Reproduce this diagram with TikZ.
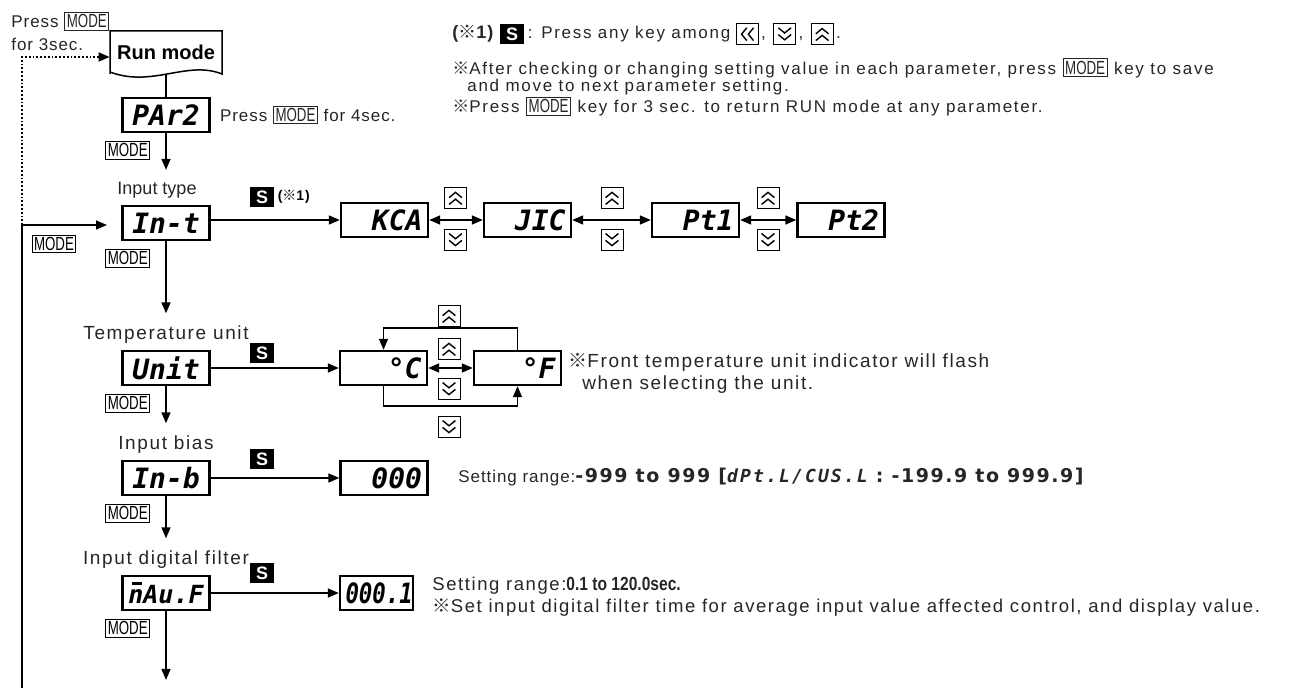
\documentclass[tikz,border=0pt]{standalone}
\usepackage{fontspec}
\usepackage{graphicx}
\setmainfont{Liberation Sans}[LetterSpace=5.5]
\newfontfamily\plainfont{Liberation Sans}
\newfontfamily\notefont{Liberation Sans}[LetterSpace=10]
\newfontfamily\labelfont{Liberation Sans}[LetterSpace=8.5]
\newfontfamily\segfont{DejaVu Sans Mono}
\newfontfamily\segwide{DejaVu Sans Mono}[LetterSpace=12]
\newfontfamily\numfont{DejaVu Sans}[LetterSpace=8]
\newfontfamily\cjk{Noto Sans CJK KR}
\usetikzlibrary{positioning,arrows.meta}

\newcommand{\refmark}{{\cjk ※}}
\newcommand{\modetxt}{{\plainfont\fontsize{9.5}{9.5}\selectfont\scalebox{0.7}[1]{MODE}}}
\newcommand{\modeinl}{{\setlength{\fboxsep}{0.8pt}\setlength{\fboxrule}{0.5pt}\fbox{\modetxt}}}
\newcommand{\segtxt}[1]{{\segwide\bfseries\itshape\fontsize{9}{9}\selectfont #1}}
\newcommand{\numtxt}[1]{{\numfont\bfseries\fontsize{9.5}{9.5}\selectfont #1}}
\newcommand{\condtxt}[1]{\scalebox{0.82}[1]{\plainfont\bfseries\fontsize{9.5}{9.5}\selectfont #1}}
\newcommand{\barn}{\rlap{\hspace{0.14em}\raisebox{0.74em}{\rule{0.42em}{0.09em}}}n}

\tikzset{
  conn/.style={line width=0.75pt, -{Triangle[length=5.5pt,width=4.5pt]}},
  dbl/.style={line width=0.75pt, {Triangle[length=5.5pt,width=4.5pt]}-{Triangle[length=5.5pt,width=4.5pt]}},
  disp/.style={draw, line width=1.2pt, minimum height=17pt, text width=38pt,
    inner xsep=2.75pt, inner ysep=0pt, align=right,
    font=\segfont\bfseries\itshape\fontsize{14}{14}\selectfont},
  param/.style={disp, align=center},
  modebox/.style={draw, line width=0.5pt, inner sep=1pt},
  sbox/.style={fill=black, text=white, inner sep=0pt, minimum width=12pt,
    minimum height=10pt, font=\plainfont\bfseries\fontsize{9}{9}\selectfont},
  keybox/.style={draw, line width=0.5pt, minimum width=11pt, minimum height=10.5pt, inner sep=0pt},
  keyup/.style={keybox, path picture={
    \draw[line width=0.7pt] ([shift={(-3.2pt,0.2pt)}]path picture bounding box.center) -- ++(3.2pt,2.6pt) -- ++(3.2pt,-2.6pt)
      ([shift={(-3.2pt,-3.2pt)}]path picture bounding box.center) -- ++(3.2pt,2.6pt) -- ++(3.2pt,-2.6pt);}},
  keydown/.style={keybox, path picture={
    \draw[line width=0.7pt] ([shift={(-3.2pt,-0.2pt)}]path picture bounding box.center) -- ++(3.2pt,-2.6pt) -- ++(3.2pt,2.6pt)
      ([shift={(-3.2pt,3.2pt)}]path picture bounding box.center) -- ++(3.2pt,-2.6pt) -- ++(3.2pt,2.6pt);}},
  keyleft/.style={keybox, path picture={
    \draw[line width=0.7pt] ([shift={(-0.2pt,3.2pt)}]path picture bounding box.center) -- ++(-2.6pt,-3.2pt) -- ++(2.6pt,-3.2pt)
      ([shift={(3.2pt,3.2pt)}]path picture bounding box.center) -- ++(-2.6pt,-3.2pt) -- ++(2.6pt,-3.2pt);}},
  note/.style={inner sep=0pt, anchor=base west, align=left, text=black!85,
    font=\fontsize{8.5}{8.75}\selectfont},
  lbl/.style={inner sep=0pt, text=black!85, font=\labelfont\fontsize{9.5}{9.5}\selectfont},
}

\begin{document}
\begin{tikzpicture}[x=0.5pt, y=-0.5pt]
\useasboundingbox (0,0) rectangle (1301,688);

% --- notes on top right
\node[note, font=\bfseries\fontsize{9}{9}\selectfont] (n1a) at (452,39) {(\refmark1)};
\node[sbox, right=3pt of n1a] (n1s) {S};
\node[note, anchor=west, right=1.5pt of n1s, font=\notefont\fontsize{8.5}{8.5}\selectfont] (n1b) {: Press any key among};
\node[keyleft, anchor=west] (n1k1) at ([xshift=2.5pt]n1b.east) {};
\node[note] (n1c1) at ([xshift=1pt]n1k1.east |- n1b.base) {,};
\node[keydown, anchor=west] (n1k2) at ([xshift=3.5pt]n1c1.east |- n1k1) {};
\node[note] (n1c2) at ([xshift=1pt]n1k2.east |- n1b.base) {,};
\node[keyup, anchor=west] (n1k3) at ([xshift=3.5pt]n1c2.east |- n1k1) {};
\node[note] (n1c3) at ([xshift=1pt]n1k3.east |- n1b.base) {.};
% base anchor of a multi-line note is its last line
\node[note, font=\notefont\fontsize{8.5}{8.75}\selectfont] (n2) at (452,113) {\refmark After checking or changing setting value in each parameter, press \modeinl\ key to save\\
  \hspace*{7.5pt}and move to next parameter setting.\\
  \refmark Press \modeinl\ key for 3 sec. to return RUN mode at any parameter.};

% --- run mode and PAr2
\node[note] (press) at (11,28) {Press \modeinl};
\node[note] (for3) at (11,51) {for 3sec.};
\node[inner sep=0pt, minimum width=56pt, minimum height=21.5pt,
  font=\plainfont\bfseries\fontsize{10}{10}\selectfont] (run) at (166,52.5) {Run mode};
\draw[line width=0.75pt] (110,74) -- (110,31) -- (222,31) -- (222,74)
  .. controls (187,60) and (152,88) .. (110,72);
\node[param] (par) at (166,115) {PAr2};
\node[note, anchor=west, right=4.5pt of par] (p4) {Press \modeinl\ for 4sec.};
\node[modebox, anchor=north west] (m1) at ([shift={(-8pt,-4pt)}]par.south west) {\modetxt};
\draw[line width=0.75pt] (run.south) -- (par.north);

% --- left return line
\coordinate (ltop) at (22,57);
\coordinate (ljoin) at (22,225);
\coordinate (lbot) at (22,688);
\coordinate (intin) at (107,225);
\draw[line width=0.9pt, densely dotted, -{Triangle[length=5.5pt,width=4.5pt]}] (ljoin) -- (ltop) -- (run.west |- ltop);
\draw[conn] (lbot) -- (ljoin) -- (intin);
\node[modebox] (m0) at (54,244) {\modetxt};

% --- input type
\node[param] (int) at (166,223) {In-t};
\node[lbl, above=3pt of int, xshift=-4.5pt, font=\plainfont\fontsize{9}{9}\selectfont] (ltype) {Input type};
\node[modebox, anchor=north west] (m2) at ([shift={(-8pt,-4pt)}]int.south west) {\modetxt};
\draw[conn, shorten >=6pt] (par.south) -- (par.south |- ltype.north);
\node[sbox] (s1) at (262,197) {S};
\node[inner sep=0pt, right=1.5pt of s1, font=\bfseries\fontsize{7}{7}\selectfont] (s1n) {(\refmark1)};
\node[disp] (kca) at (384.5,220) {KCA};
\node[disp] (jic) at (527.5,220) {JIC};
\node[disp] (pt1) at (695.5,220) {Pt1};
\node[disp] (pt2) at (841,220) {Pt2};
\draw[conn] (int.east |- kca.west) -- (kca.west);
\draw[dbl] (kca) -- (jic);
\draw[dbl] (jic) -- (pt1);
\draw[dbl] (pt1) -- (pt2);
\node[keyup] (ku1) at (455.5,198) {};
\node[keydown] (kd1) at (455.5,240) {};
\node[keyup] (ku2) at (612,198) {};
\node[keydown] (kd2) at (612,240) {};
\node[keyup] (ku3) at (768,198) {};
\node[keydown] (kd3) at (768,240) {};

% --- temperature unit
\node[param] (unit) at (166,368) {Unit};
\node[lbl, above=3pt of unit] (lunit) {Temperature unit};
\node[modebox, anchor=north west] (m3) at ([shift={(-8pt,-4pt)}]unit.south west) {\modetxt};
\draw[conn, shorten >=6pt] (int.south) -- (int.south |- lunit.north);
\node[sbox] (s2) at (262,353) {S};
\node[disp] (degc) at (383.5,368) {°C};
\node[disp] (degf) at (517.5,368) {°F};
\draw[conn] (unit) -- (degc);
\draw[dbl] (degc) -- (degf);
\coordinate (loopt) at (450,328);
\coordinate (loopb) at (450,406);
\draw[conn] (degf.north) -- (degf.north |- loopt) -- (degc.north |- loopt) -- (degc.north);
\draw[conn] (degc.south) -- (degc.south |- loopb) -- (degf.south |- loopb) -- (degf.south);
\node[keyup] (ku4) at (449,316) {};
\node[keyup] (ku5) at (449,349) {};
\node[keydown] (kd4) at (449,389) {};
\node[keydown] (kd5) at (449,427) {};
\node[note, font=\labelfont\fontsize{9.5}{11}\selectfont] (fnote) at (568,390) {\refmark Front temperature unit indicator will flash\\
  \hspace*{7pt}when selecting the unit.};

% --- input bias
\node[param] (inb) at (166,478) {In-b};
\node[lbl, above=3pt of inb] (lbias) {Input bias};
\node[modebox, anchor=north west] (m4) at ([shift={(-8pt,-4pt)}]inb.south west) {\modetxt};
\draw[conn, shorten >=6pt] (unit.south) -- (unit.south |- lbias.north);
\node[sbox] (s3) at (262,459) {S};
\node[disp] (v000) at (384,478) {000};
\draw[conn] (inb) -- (v000);
\node[note] (brange) at (458,483) {Setting range:\numtxt{-999 to 999 [}\segtxt{dPt.L/CUS.L}\numtxt{ : -199.9 to 999.9]}};

% --- input digital filter
\node[param, font=\segfont\bfseries\itshape\fontsize{12.5}{12.5}\selectfont] (mavf) at (166,593) {\barn Au.F};
\node[lbl, above=3pt of mavf] (lfilt) {Input digital filter};
\node[modebox, anchor=north west] (m5) at ([shift={(-8pt,-4pt)}]mavf.south west) {\modetxt};
\draw[conn, shorten >=6pt] (inb.south) -- (inb.south |- lfilt.north);
\node[sbox] (s4) at (262,573) {S};
\node[disp, text width=31pt] (v0001) at (376.5,593) {\scalebox{0.8}[1]{000.1}};
\draw[conn] (mavf) -- (v0001);
\node[note, font=\labelfont\fontsize{9.25}{11}\selectfont] (frange) at (432,613) {Setting range:\condtxt{0.1 to 120.0sec.}\\
  \refmark Set input digital filter time for average input value affected control, and display value.};
\coordinate (fend) at (166,680);
\draw[conn] (mavf.south) -- (fend);
\end{tikzpicture}
\end{document}
